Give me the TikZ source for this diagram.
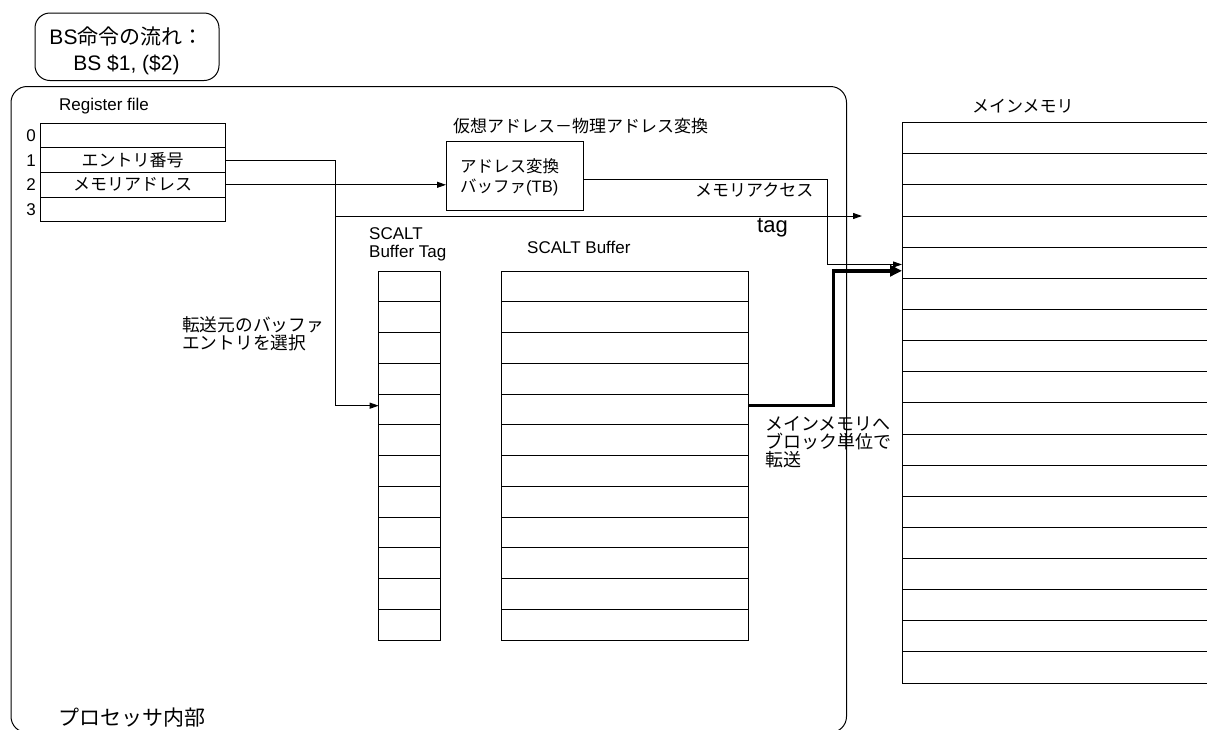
\documentclass[tikz,border=0pt]{standalone}
\usepackage{fontspec}
\setmainfont{Liberation Sans}
\newfontfamily\jpfont{Noto Sans CJK JP}
\usetikzlibrary{arrows.meta}
\tikzset{
  cell/.style={draw, line width=1pt, inner sep=0pt, outer sep=0pt, anchor=north west},
  regcell/.style={cell, minimum width=185pt, minimum height=24.6pt},
  tagcell/.style={cell, minimum width=61.3pt, minimum height=30.75pt},
  bufcell/.style={cell, minimum width=247pt, minimum height=30.75pt},
  memcell/.style={cell, minimum width=330pt, minimum height=31.13pt},
  jp/.style={font=\jpfont\fontsize{17}{18}\selectfont, inner sep=0pt},
  lat/.style={font=\fontsize{17}{18}\selectfont, inner sep=0pt},
  arr/.style={line width=1pt, -{Triangle[length=9pt,width=6pt]}},
  bigarr/.style={line width=3.5pt, -{Triangle[length=12pt,width=11pt]}},
}
\begin{document}
\begin{tikzpicture}[x=1pt,y=-1pt]
\clip (0,0) rectangle (1207,729);
\fill[white] (0,0) rectangle (1207,729);

% title box
\node[draw, line width=1pt, rounded corners=15pt, minimum width=184pt, minimum height=67.5pt,
      anchor=north west, inner sep=0pt] (title) at (34.5,12.5) {};
\node[align=center, inner sep=0pt, font=\fontsize{21}{26}\selectfont] (titletext) at (126.5,51)
      {BS{\jpfont 命令の流れ：}\\BS \$1, (\$2)};

% processor
\node[draw, line width=1pt, rounded corners=16pt, minimum width=835.5pt, minimum height=646pt,
      anchor=north west, inner sep=0pt] (proc) at (10.5,86) {};
\node[jp, anchor=west, font=\jpfont\fontsize{21}{22}\selectfont] (proclabel) at (58,718) {プロセッサ内部};

% register file
\node[lat, anchor=west] (reglabel) at (59,106) {Register file};
\foreach \i/\t in {0/{},1/{エントリ番号},2/{メモリアドレス},3/{}} {
  \node[regcell, font=\jpfont\fontsize{17}{18}\selectfont] (reg\i) at (40,123.3+\i*24.6) {\t};
  \node[lat, anchor=east] (regnum\i) at (36,135.6+\i*24.6) {\i};
}

% TB
\node[jp, anchor=west] (tbtitle) at (453,126) {仮想アドレス－物理アドレス変換};
\node[draw, line width=1pt, minimum width=137pt, minimum height=69pt, anchor=north west,
      inner sep=0pt] (tb) at (446,141) {};
\node[jp, anchor=west, align=left, font=\jpfont\fontsize{16.5}{20}\selectfont] (tbtext) at (460,177)
      {アドレス変換\\バッファ{\rmfamily(TB)}};

% SCALT
\node[lat, anchor=west, align=left] (taglabel) at (369,244) {SCALT\\Buffer Tag};
\node[lat, anchor=west] (buflabel) at (527,247) {SCALT Buffer};
\foreach \i in {0,...,11} {
  \node[tagcell] (tag\i) at (378.7,271+\i*30.75) {};
  \node[bufcell] (buf\i) at (501,271+\i*30.75) {};
}

% main memory
\node[jp, anchor=west] (memlabel) at (972,106) {メインメモリ};
\foreach \i in {0,...,17} {
  \node[memcell] (mem\i) at (902,122.7+\i*31.13) {};
}

% labels
\node[jp, anchor=west] (macc) at (695,190) {メモリアクセス};
\node[font=\fontsize{22}{24}\selectfont, anchor=west, inner sep=0pt] (taglbl) at (757,228) {tag};
\node[jp, anchor=west, align=left, font=\jpfont\fontsize{17.7}{18.5}\selectfont] (sellabel) at (182,334)
      {転送元のバッファ\\エントリを選択};
\node[jp, anchor=west, align=left, font=\jpfont\fontsize{18}{18}\selectfont] (xferlabel) at (765,442)
      {メインメモリへ\\ブロック単位で\\転送};

% connectors
\coordinate (vx) at (335.5,0);
\coordinate (xa) at (827.5,0);
\coordinate (xb) at (833.7,0);
\coordinate (tagstart) at (335.5,216);
\coordinate (tagend) at (862,216);
\coordinate (tagin) at ([yshift=3.7pt]tag4.west);
\coordinate (memin) at ([yshift=-1.7pt]mem4.west);
\coordinate (memin2) at ([yshift=-8pt]mem4.west);

\draw[arr] (reg1.east) -| (vx |- tagin) -- (tagin);
\draw[arr] (reg2.east) -- (reg2.east -| tb.west);
\draw[arr] (tagstart) -- (tagend);
\draw[arr] ([yshift=-3.5pt]tb.east) -| (xa |- memin) -- (memin);
\draw[bigarr] ([yshift=3.7pt]buf4.east) -| (xb |- memin2) -- (memin2);
\end{tikzpicture}
\end{document}
